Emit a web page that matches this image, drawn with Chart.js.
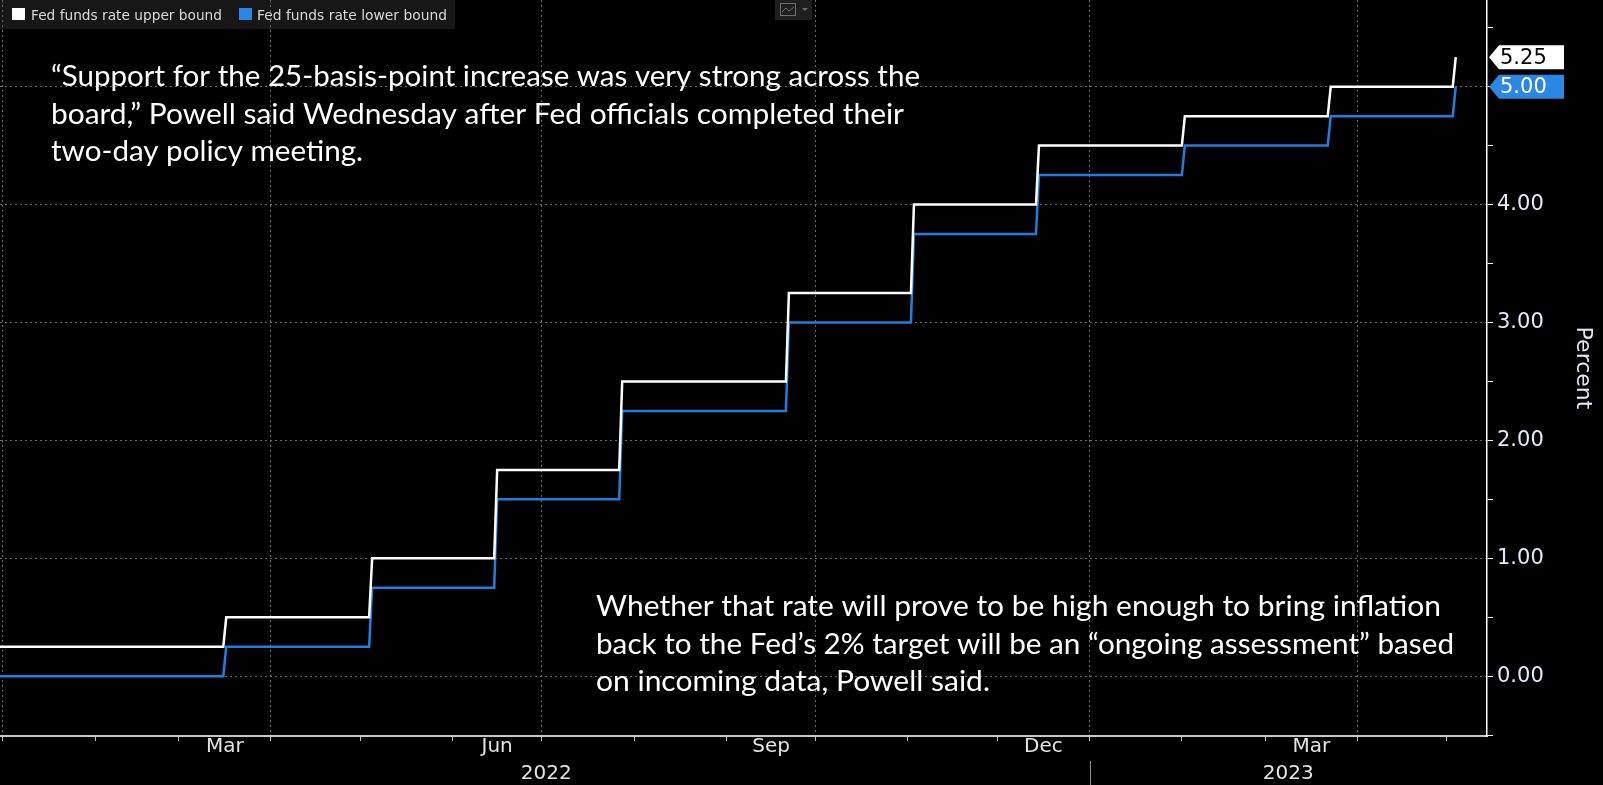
<!DOCTYPE html>
<html>
<head>
<meta charset="utf-8">
<title>Fed funds rate</title>
<script src="https://cdn.jsdelivr.net/npm/chart.js@4.4.0/dist/chart.umd.min.js"></script>
<style>
  html, body { margin: 0; padding: 0; background: #000; }
  canvas { display: block; }
</style>
</head>
<body>
<canvas id="rates" width="1603" height="785"></canvas>
<script>
// effective date of each change in the target range
const changeDates = ['2021-12-27', '2022-03-17', '2022-05-05', '2022-06-16', '2022-07-28',
  '2022-09-22', '2022-11-03', '2022-12-15', '2023-02-02', '2023-03-23', '2023-05-04'];
const upperBound = [0.25, 0.50, 1.00, 1.75, 2.50, 3.25, 4.00, 4.50, 4.75, 5.00, 5.25];
const lowerBound = [0.00, 0.25, 0.75, 1.50, 2.25, 3.00, 3.75, 4.25, 4.50, 4.75, 5.00];

const seriesNames = ['Fed funds rate upper bound', 'Fed funds rate lower bound'];
const monthNames = ['Jan', 'Feb', 'Mar', 'Apr', 'May', 'Jun', 'Jul', 'Aug', 'Sep', 'Oct', 'Nov', 'Dec'];
const labeledMonths = ['Mar', 'Jun', 'Sep', 'Dec'];
const years = [2022, 2023];
const axisTitle = 'Percent';

const quoteLines = [
  '\u201cSupport for the 25-basis-point increase was very strong across the',
  'board,\u201d Powell said Wednesday after Fed officials completed their',
  'two-day policy meeting.'
];
const noteLines = [
  'Whether that rate will prove to be high enough to bring inflation',
  'back to the Fed\u2019s 2% target will be an \u201congoing assessment\u201d based',
  'on incoming data, Powell said.'
];

const UPPER = '#ffffff';
const LOWER = '#1f7fe0';
const LOWER_TAG = '#2a87e3';
const GRID = '#6a6a6a';

const DAY0 = Date.UTC(2022, 0, 1);
const day = s => (Date.parse(s + 'T00:00:00Z') - DAY0) / 864e5;

const X_MIN = -1.0;
const X_MAX = day('2023-05-14') + 0.5;

// each change rises over one day, like the daily series does
function stepPoints(values) {
  const pts = [];
  changeDates.forEach((d, i) => {
    const t = day(d);
    if (i > 0) pts.push({x: t - 1, y: values[i - 1]});
    pts.push({x: t, y: values[i]});
  });
  return pts;
}

function monthStart(y, m) {
  return day(new Date(Date.UTC(y, m, 1)).toISOString().slice(0, 10));
}

function buildXTicks() {
  const ticks = [];
  for (let y = years[0], m = 0; ; m++) {
    if (m === 12) { m = 0; y++; }
    const t = monthStart(y, m);
    if (t > X_MAX) break;
    ticks.push({value: t, kind: 'month', quarter: m % 3 === 0});
    if (labeledMonths.includes(monthNames[m])) {
      const next = m === 11 ? monthStart(y + 1, 0) : monthStart(y, m + 1);
      ticks.push({value: (t + next) / 2, kind: 'label', text: monthNames[m]});
    }
  }
  years.forEach(y => {
    const a = Math.max(monthStart(y, 0), X_MIN);
    const b = Math.min(monthStart(y + 1, 0), X_MAX);
    ticks.push({value: (a + b) / 2, kind: 'year', text: String(y)});
  });
  return ticks.sort((p, q) => p.value - q.value);
}

function buildYTicks() {
  const ticks = [];
  for (let v = -0.5; v <= 5.5; v += 0.5) ticks.push({value: v});
  return ticks;
}

function fitText(ctx, text, x, y, width, font, color) {
  ctx.save();
  ctx.font = font;
  const w = ctx.measureText(text).width;
  ctx.translate(x, y);
  ctx.scale(width / w, 1);
  ctx.fillStyle = color;
  ctx.textBaseline = 'alphabetic';
  ctx.textAlign = 'left';
  ctx.fillText(text, 0, 0);
  ctx.restore();
}

const backdrop = {
  id: 'backdrop',
  beforeDraw(chart) {
    const ctx = chart.ctx;
    ctx.save();
    ctx.fillStyle = '#000';
    ctx.fillRect(0, 0, chart.width, chart.height);
    ctx.fillStyle = '#171717';
    ctx.fillRect(0, 0, 455, 29);
    ctx.restore();
  }
};

const overlay = {
  id: 'overlay',
  afterDraw(chart) {
    const ctx = chart.ctx;
    const xs = chart.scales.x, ys = chart.scales.y;

    // legend
    ctx.save();
    ctx.fillStyle = UPPER;
    ctx.fillRect(12, 8, 13, 12);
    ctx.fillStyle = LOWER_TAG;
    ctx.fillRect(239, 8, 13, 12);
    ctx.restore();
    fitText(ctx, seriesNames[0], 31, 20, 191, '13.5px "DejaVu Sans"', '#d9d9d9');
    fitText(ctx, seriesNames[1], 257, 20, 190, '13.5px "DejaVu Sans"', '#d9d9d9');

    // chart-type button
    ctx.save();
    ctx.fillStyle = '#1f1f1f';
    ctx.fillRect(775, 0, 37, 20);
    ctx.strokeStyle = '#6f6f6f';
    ctx.lineWidth = 1;
    ctx.strokeRect(780.5, 3.5, 15, 12);
    ctx.beginPath();
    ctx.moveTo(782, 12); ctx.lineTo(786, 8); ctx.lineTo(789, 11); ctx.lineTo(794, 7);
    ctx.stroke();
    ctx.fillStyle = '#6f6f6f';
    ctx.beginPath();
    ctx.moveTo(802, 8); ctx.lineTo(808, 8); ctx.lineTo(805, 11); ctx.closePath();
    ctx.fill();
    ctx.restore();

    // year divider under the axis
    const xy = Math.round(xs.getPixelForValue(monthStart(years[1], 0))) + 0.5;
    ctx.save();
    ctx.strokeStyle = '#8a8a8a';
    ctx.lineWidth = 1;
    ctx.beginPath();
    ctx.moveTo(xy, 761); ctx.lineTo(xy, 785);
    ctx.stroke();
    ctx.restore();

    // last-value tags on the axis
    const tags = [
      {values: upperBound, fill: UPPER, text: '#000'},
      {values: lowerBound, fill: LOWER_TAG, text: '#fff'}
    ];
    const ax = ys.left + 2;
    tags.forEach(t => {
      const v = t.values[t.values.length - 1];
      const py = ys.getPixelForValue(v);
      ctx.save();
      ctx.fillStyle = t.fill;
      ctx.beginPath();
      ctx.moveTo(ax, py);
      ctx.lineTo(ax + 10, py - 12);
      ctx.lineTo(1564, py - 12);
      ctx.lineTo(1564, py + 12);
      ctx.lineTo(ax + 10, py + 12);
      ctx.closePath();
      ctx.fill();
      ctx.fillStyle = t.text;
      ctx.font = '21px "DejaVu Sans"';
      ctx.textBaseline = 'middle';
      ctx.textAlign = 'left';
      ctx.fillText(v.toFixed(2), ax + 11, py + 1);
      ctx.restore();
    });

    // commentary
    const font = '28px Lato';
    const qW = [869, 853, 312];
    quoteLines.forEach((s, i) => fitText(ctx, s, 51, 86 + i * 37.5, qW[i], font, '#fff'));
    const nW = [845, 858, 394];
    noteLines.forEach((s, i) => fitText(ctx, s, 596, 616 + i * 37.5, nW[i], font, '#fff'));
  }
};

Chart.defaults.font.family = '"DejaVu Sans"';

new Chart(document.getElementById('rates'), {
  type: 'line',
  data: {
    datasets: [{
      label: seriesNames[0],
      data: stepPoints(upperBound),
      borderColor: UPPER,
      borderWidth: 2.5,
      pointRadius: 0,
      tension: 0,
      fill: false
    }, {
      label: seriesNames[1],
      data: stepPoints(lowerBound),
      borderColor: LOWER,
      borderWidth: 2.5,
      pointRadius: 0,
      tension: 0,
      fill: false
    }]
  },
  options: {
    responsive: false,
    devicePixelRatio: 1,
    animation: false,
    events: [],
    layout: {padding: 0},
    plugins: {
      legend: {display: false},
      tooltip: {enabled: false}
    },
    scales: {
      x: {
        type: 'linear',
        position: 'bottom',
        min: X_MIN,
        max: X_MAX,
        afterBuildTicks: s => { s.ticks = buildXTicks(); },
        afterFit: s => { s.height = 49; s.paddingLeft = 0; s.paddingRight = 0; },
        border: {color: '#c8c8c8', width: 2, dash: [2, 3]},
        grid: {
          color: c => (c.tick && c.tick.quarter) ? GRID : 'rgba(0,0,0,0)',
          tickColor: c => (c.tick && c.tick.kind === 'month') ? '#bdbdbd' : 'rgba(0,0,0,0)',
          tickLength: 5,
          lineWidth: 1
        },
        ticks: {
          autoSkip: false,
          maxRotation: 0,
          minRotation: 0,
          padding: -7.5,
          color: '#e4e4e4',
          font: {size: 20, lineHeight: 1.35},
          callback: (v, i, ticks) => {
            const t = ticks[i];
            if (t.kind === 'label') return t.text;
            if (t.kind === 'year') return ['', t.text];
            return '';
          }
        }
      },
      y: {
        type: 'linear',
        position: 'right',
        min: -0.507,
        max: 5.735,
        afterBuildTicks: s => { s.ticks = buildYTicks(); },
        afterFit: s => { s.width = 116; s.paddingTop = 0; s.paddingBottom = 0; },
        border: {color: '#ffffff', width: 1.5, dash: [2, 3]},
        grid: {
          color: c => (c.tick && Number.isInteger(c.tick.value)) ? GRID : 'rgba(0,0,0,0)',
          tickColor: '#ffffff',
          tickLength: 6,
          lineWidth: 1
        },
        ticks: {
          padding: 4,
          color: '#e2eaf6',
          font: {size: 21},
          callback: v => Number.isInteger(v) ? v.toFixed(2) : ''
        },
        title: {
          display: true,
          text: axisTitle,
          color: '#e2eaf6',
          font: {size: 22},
          padding: {top: 7, bottom: 0}
        }
      }
    }
  },
  plugins: [backdrop, overlay]
});
</script>
</body>
</html>
